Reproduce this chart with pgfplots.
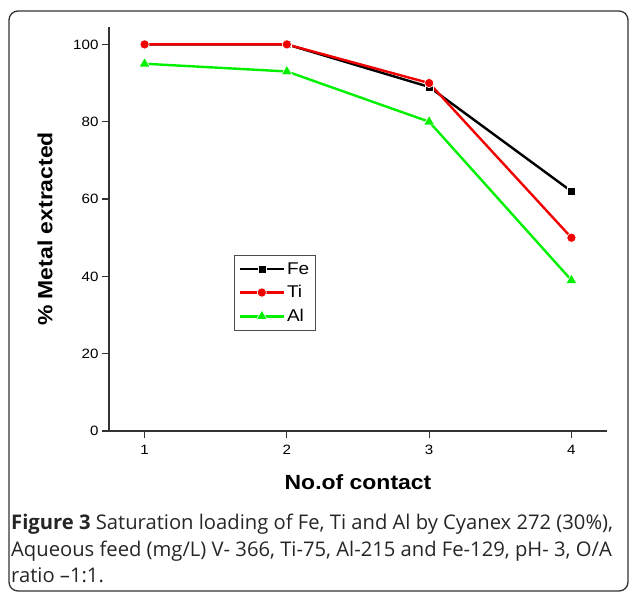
\documentclass[border=0pt]{standalone}
\usepackage{fontspec}
\setmainfont{Liberation Sans}[FakeStretch=1.12]
\newfontfamily\capfont{Open Sans}
\usepackage{pgfplots}
\pgfplotsset{compat=1.18}
\definecolor{alg}{RGB}{0,240,0}
\definecolor{tir}{RGB}{240,0,0}
\definecolor{frm}{RGB}{50,50,50}

\begin{document}
\begin{tikzpicture}[x=1pt,y=1pt]
\useasboundingbox (0,0) rectangle (629,-592);
\begin{scope}
  \clip (0,0) rectangle (629,-592);
  \draw[rounded corners=9pt, line width=1.3pt, frm] (9,-11) rectangle (628,-591);
\end{scope}
\begin{axis}[
  at={(109pt,-431pt)}, anchor=south west,
  scale only axis, width=498pt, height=404pt,
  xmin=0.75, xmax=4.25, ymin=0, ymax=104.5,
  axis x line*=bottom, axis y line*=left,
  axis line style={line width=1.2pt, black!80},
  xtick={1,2,3,4}, ytick={0,20,40,60,80,100},
  tick align=outside, major tick length=7pt,
  tick style={line width=1.2pt, black!80},
  minor tick num=0,
  /pgf/number format/assume math mode=true,
  tick label style={font=\fontsize{13.5}{15}\selectfont},
  xticklabel style={yshift=-4pt},
  xlabel={\textbf{No.of contact}},
  ylabel={\textbf{\% Metal extracted}},
  label style={font=\fontsize{20.5}{24}\selectfont},
  xlabel style={at={(axis description cs:0.5,0)}, anchor=center, yshift=-51pt},
  ylabel style={at={(axis description cs:0,0.5)}, anchor=center, yshift=64pt},
  legend style={at={(rel axis cs:0.2515,0.4356)}, anchor=north west,
    draw=black!70, line width=0.8pt, font=\fontsize{17}{19}\selectfont,
    inner xsep=4pt, inner ysep=5pt, row sep=6pt},
  legend cell align=left,
  legend image code/.code={
    \draw[#1, mark repeat=2, mark phase=2] plot coordinates {(0pt,0pt) (22pt,0pt) (44pt,0pt)};
  },
]
\addplot[black, line width=2.4pt, mark=square*, mark size=4pt, mark options={solid, fill=black, draw=white, line width=0.6pt}]
  coordinates {(1,100) (2,100) (3,89) (4,62)};
\addlegendentry{Fe}
\addplot[tir, line width=2.4pt, mark=*, mark size=4.6pt, mark options={solid, fill=tir, draw=white, line width=0.6pt}]
  coordinates {(1,100) (2,100) (3,90) (4,50)};
\addlegendentry{Ti}
\addplot[alg, line width=2.4pt, mark=triangle*, mark size=6.2pt, mark options={solid, fill=alg, draw=white, line width=0.6pt}]
  coordinates {(1,95) (2,93) (3,80) (4,39)};
\addlegendentry{Al}
\end{axis}
\begin{scope}[every node/.style={anchor=base west, inner sep=0pt, text=black!85,
  font=\capfont\fontsize{20.2}{24}\selectfont}]
\node at (11,-529) {\textbf{Figure 3} Saturation loading of Fe, Ti and Al by Cyanex 272 (30\%),};
\node at (11,-556) {Aqueous feed (mg/L) V- 366, Ti-75, Al-215 and Fe-129, pH- 3, O/A};
\node at (11,-582) {ratio \textendash1:1.};
\end{scope}
\end{tikzpicture}
\end{document}
